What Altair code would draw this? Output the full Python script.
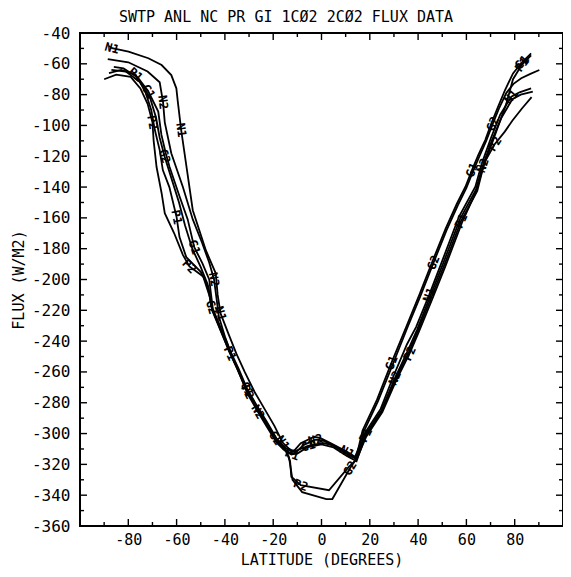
import math
import altair as alt
import pandas as pd

TITLE = "SWTP ANL NC PR GI 1CØ2 2CØ2 FLUX DATA"
X_TITLE = "LATITUDE (DEGREES)"
Y_TITLE = "FLUX (W/M2)"
X_LABELS = [-80, -60, -40, -20, 0, 20, 40, 60, 80]
Y_LABELS = [-40, -60, -80, -100, -120, -140, -160, -180, -200, -220, -240,
            -260, -280, -300, -320, -340, -360]
X_MINOR = [-90, -70, -50, -30, -10, 10, 30, 50, 70, 90]
Y_MINOR = [-50, -70, -90, -110, -130, -150, -170, -190, -210, -230, -250,
           -270, -290, -310, -330, -350]

# (latitude, flux) pairs
N1 = [(-88.0, -48.5), (-86.7, -49.9), (-79.9, -52.1), (-71.7, -56.4), (-66.2, -60.8),
      (-62.2, -67.3), (-60.1, -75.9), (-59.5, -84.6), (-58.1, -103.0), (-55.7, -129.0),
      (-53.3, -155.0), (-50.6, -168.0), (-47.9, -181.0), (-43.8, -196.0), (-43.0, -210.0),
      (-41.8, -222.0), (-38.6, -235.0), (-35.3, -248.0), (-31.8, -260.0), (-27.7, -273.0),
      (-23.6, -284.0), (-19.5, -295.0), (-16.0, -306.0), (-12.7, -311.0), (-11.1, -310.8),
      (-8.6, -306.2), (-3.0, -302.1), (-0.4, -303.0), (3.7, -306.2), (10.6, -311.9),
      (13.9, -315.1), (17.8, -300.0), (24.5, -284.0), (30.0, -262.0), (35.4, -242.0),
      (39.2, -230.7), (44.6, -210.0), (50.1, -187.4), (56.9, -159.3), (63.7, -139.8),
      (66.4, -124.6), (70.2, -108.0), (74.0, -93.0), (78.6, -81.4), (82.0, -78.5),
      (86.8, -75.9)]
N2 = [(-88.5, -57.0), (-80.0, -59.0), (-72.0, -65.0), (-67.0, -72.0), (-65.6, -85.0),
      (-64.9, -98.0), (-62.2, -118.0), (-57.4, -140.0), (-53.3, -161.0), (-49.5, -176.0),
      (-46.5, -189.0), (-44.5, -200.0), (-43.5, -212.0), (-42.5, -224.0), (-40.0, -237.0),
      (-37.0, -250.0), (-33.8, -262.0), (-30.3, -275.0), (-26.3, -286.0), (-22.5, -296.0),
      (-18.5, -306.0), (-15.2, -311.0), (-12.5, -313.5), (-10.5, -312.0), (-7.5, -307.5),
      (-2.5, -304.0), (0.5, -304.5), (4.5, -307.5), (10.5, -313.0), (14.2, -316.5),
      (18.0, -301.0), (24.8, -285.0), (30.4, -264.0), (35.8, -246.0), (39.6, -232.5),
      (45.0, -211.0), (50.5, -189.0), (57.3, -161.0), (64.0, -141.5), (66.8, -126.0),
      (70.6, -109.5), (74.5, -95.0), (79.0, -83.0), (82.5, -80.0), (87.5, -78.0)]
P1 = [(-88.0, -66.0), (-83.0, -64.0), (-77.0, -67.0), (-73.0, -78.0), (-70.5, -90.0),
      (-69.0, -103.0), (-67.0, -116.0), (-65.7, -129.0), (-63.0, -140.0), (-60.0, -159.5),
      (-58.8, -172.5), (-56.0, -185.5), (-50.0, -195.0), (-46.8, -205.0), (-45.3, -220.0),
      (-41.3, -235.0), (-37.9, -248.0), (-34.6, -259.0), (-31.1, -272.0), (-27.0, -283.0),
      (-22.9, -293.5), (-18.8, -304.5), (-15.4, -310.0), (-12.2, -313.5), (-10.0, -313.0),
      (-6.0, -309.0), (0.0, -307.0), (5.0, -309.0), (10.5, -314.5), (14.5, -318.0),
      (18.3, -301.0), (25.0, -285.5), (30.6, -265.0), (36.2, -247.0), (40.0, -233.0),
      (45.4, -212.0), (51.0, -190.0), (57.8, -162.0), (64.5, -142.5), (67.0, -127.0),
      (70.5, -112.0), (73.5, -99.0), (76.5, -86.0), (79.3, -70.0), (83.0, -60.5),
      (86.8, -54.5)]
P2 = [(-90.0, -70.0), (-85.0, -67.0), (-79.0, -68.5), (-75.0, -76.0), (-72.0, -86.0),
      (-70.0, -98.0), (-69.5, -110.0), (-68.3, -127.0), (-66.2, -144.0), (-64.9, -157.0),
      (-61.0, -170.0), (-57.4, -184.0), (-54.7, -191.5), (-49.0, -198.0), (-46.5, -210.0),
      (-44.8, -221.0), (-40.8, -236.0), (-37.4, -249.0), (-34.1, -260.0), (-30.6, -273.0),
      (-26.5, -284.0), (-22.4, -294.5), (-18.3, -305.0), (-14.8, -311.0), (-13.0, -318.0),
      (-12.5, -328.0), (-8.6, -333.5), (3.1, -336.8), (11.3, -321.6), (14.5, -317.0),
      (18.5, -302.0), (25.2, -286.0), (30.8, -266.0), (36.5, -248.0), (40.3, -234.0),
      (45.8, -213.0), (51.4, -191.0), (58.2, -163.0), (63.7, -144.0), (67.5, -124.0),
      (71.8, -112.0), (75.9, -104.0), (79.0, -97.0), (83.0, -89.0), (87.0, -81.6)]
G1 = [(-86.0, -62.0), (-82.0, -63.0), (-76.0, -69.0), (-71.7, -78.0), (-67.6, -91.0),
      (-66.3, -106.0), (-64.5, -118.0), (-62.9, -127.0), (-58.8, -146.0), (-55.4, -161.0),
      (-52.7, -179.0), (-49.3, -189.5), (-46.5, -200.0), (-45.0, -219.0), (-41.0, -234.0),
      (-37.6, -247.0), (-34.3, -258.0), (-30.8, -271.0), (-26.7, -282.0), (-22.6, -292.5),
      (-18.5, -303.5), (-15.2, -309.0), (-12.0, -312.0), (-9.5, -310.5), (-5.5, -308.0),
      (0.5, -306.0), (5.5, -308.0), (10.8, -313.5), (14.3, -316.0), (17.0, -298.0),
      (23.0, -278.0), (29.0, -254.0), (35.1, -230.7), (40.5, -210.0), (46.0, -188.0),
      (51.4, -167.0), (56.0, -151.0), (59.6, -139.8), (62.3, -129.0), (65.0, -119.0),
      (67.8, -109.5), (70.5, -98.0), (73.1, -87.9), (76.0, -77.0), (79.3, -66.2),
      (83.0, -59.0), (86.8, -53.2)]
G2 = [(-87.0, -64.0), (-81.0, -65.0), (-75.0, -72.0), (-71.0, -82.0), (-68.5, -95.0),
      (-67.0, -108.0), (-65.0, -120.0), (-62.0, -135.0), (-59.0, -150.0), (-56.5, -165.0),
      (-53.5, -180.0), (-50.0, -192.0), (-47.2, -203.0), (-45.5, -218.0), (-41.6, -233.5),
      (-38.2, -246.5), (-34.8, -257.5), (-31.3, -270.5), (-27.2, -281.5), (-23.1, -292.0),
      (-19.0, -303.0), (-15.5, -309.0), (-13.5, -315.0), (-12.0, -330.0), (-8.0, -338.0),
      (2.0, -342.5), (4.5, -342.5), (11.8, -322.5), (14.6, -316.0), (17.4, -299.0),
      (23.4, -279.0), (29.4, -255.5), (35.5, -231.5), (40.9, -211.0), (46.4, -189.0),
      (51.8, -168.0), (56.4, -152.0), (60.0, -140.5), (62.7, -130.0), (65.4, -120.0),
      (68.2, -110.0), (70.9, -99.0), (73.5, -89.0), (76.5, -79.0), (79.5, -73.0),
      (82.7, -69.4), (86.5, -66.5), (90.2, -64.0)]

SERIES = {"N1": N1, "N2": N2, "P1": P1, "P2": P2, "G1": G1, "G2": G2}
LABEL_START = {"N1": 1, "N2": 4, "P1": 2, "P2": 5, "G1": 3, "G2": 6}
LABEL_STEP = 7

W, H = 483, 493
FONT = "DejaVu Sans Mono"
PX_DEG = W / 200.0
PX_FLUX = H / 320.0

rows, labels = [], []
for name, pts in SERIES.items():
    for i, (la, fl) in enumerate(pts):
        rows.append({"series": name, "order": i, "lat": la, "flux": fl})
    for i in range(LABEL_START[name], len(pts) - 1, LABEL_STEP):
        a, b = pts[i - 1], pts[i + 1]
        dx = (b[0] - a[0]) * PX_DEG
        dy = -(b[1] - a[1]) * PX_FLUX
        ang = math.degrees(math.atan2(dy, dx))
        if ang > 90:
            ang -= 180
        if ang < -90:
            ang += 180
        labels.append({"series": name, "lat": pts[i][0], "flux": pts[i][1],
                       "angle": ang % 360})

df = pd.DataFrame(rows)
ldf = pd.DataFrame(labels)

xs = alt.Scale(domain=[-100, 100], nice=False, zero=False)
ys = alt.Scale(domain=[-360, -40], nice=False, zero=False)

x_axis = alt.Axis(values=X_LABELS, ticks=False, domain=False, grid=False,
                  labelExpr="replace(format(datum.value, 'd'), '\u2212', '-')",
                  labelFont=FONT, labelFontSize=15, labelColor="black", labelPadding=6,
                  title=X_TITLE, titleFont=FONT, titleFontSize=15, titleFontWeight="normal",
                  titleColor="black", titleBaseline="alphabetic", titleY=38)
y_axis = alt.Axis(values=Y_LABELS, ticks=False, domain=False, grid=False,
                  labelExpr="replace(format(datum.value, 'd'), '\u2212', '-')",
                  labelFont=FONT, labelFontSize=16, labelColor="black", labelPadding=10,
                  title=Y_TITLE, titleFont=FONT, titleFontSize=15, titleFontWeight="normal",
                  titleColor="black", titleBaseline="middle", titleX=-62, titleY=H / 2)

lines = alt.Chart(df).mark_line(color="black", strokeWidth=1.8).encode(
    x=alt.X("lat:Q", scale=xs, axis=x_axis),
    y=alt.Y("flux:Q", scale=ys, axis=y_axis),
    detail="series:N",
    order="order:Q",
)

texts = alt.Chart(ldf).mark_text(font=FONT, fontSize=12, fontWeight="bold",
                                 color="black").encode(
    x=alt.X("lat:Q", scale=xs, axis=x_axis),
    y=alt.Y("flux:Q", scale=ys, axis=y_axis),
    text="series:N",
    angle=alt.Angle("angle:Q", scale=None),
)

one = pd.DataFrame({"lat": [0]})
frame = alt.Chart(one).mark_rect(
    fill=None, stroke="black", strokeWidth=2).encode(
    x=alt.value(0), x2=alt.value(W), y=alt.value(0), y2=alt.value(H))

title = alt.Chart(one).mark_text(
    text=TITLE, font=FONT, fontSize=15, color="black", align="center",
    baseline="alphabetic").encode(x=alt.value(206), y=alt.value(-11))


def xticks(vals, length):
    d = pd.DataFrame({"lat": vals})
    bot = alt.Chart(d).mark_rule(color="black", strokeWidth=1.4).encode(
        x=alt.X("lat:Q", scale=xs, axis=x_axis), y=alt.value(H), y2=alt.value(H - length))
    top = alt.Chart(d).mark_rule(color="black", strokeWidth=1.4).encode(
        x=alt.X("lat:Q", scale=xs, axis=x_axis), y=alt.value(0), y2=alt.value(length))
    return [bot, top]


def yticks(vals, length):
    d = pd.DataFrame({"flux": vals})
    left = alt.Chart(d).mark_rule(color="black", strokeWidth=1.4).encode(
        y=alt.Y("flux:Q", scale=ys, axis=y_axis), x=alt.value(0), x2=alt.value(length))
    right = alt.Chart(d).mark_rule(color="black", strokeWidth=1.4).encode(
        y=alt.Y("flux:Q", scale=ys, axis=y_axis), x=alt.value(W), x2=alt.value(W - length))
    return [left, right]


layers = ([lines, texts, frame, title] + xticks(X_LABELS, 7) + xticks(X_MINOR, 4)
          + yticks(Y_LABELS, 7) + yticks(Y_MINOR, 4))

chart = alt.layer(*layers).properties(
    width=W, height=H,
    background="white",
    autosize=alt.AutoSizeParams(type="none"),
    padding={"left": 72, "top": 25, "right": 0, "bottom": 43},
).configure_view(stroke="black", strokeWidth=2)

chart.save("out.html", embed_options={"renderer": "svg", "actions": False})
